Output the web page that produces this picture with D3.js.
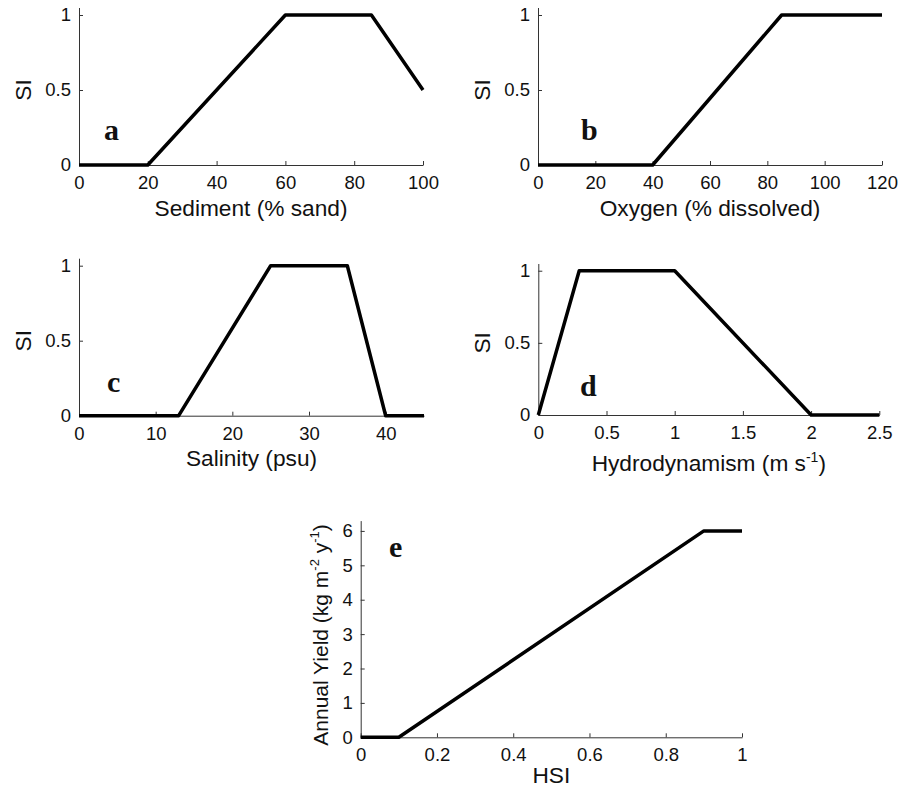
<!DOCTYPE html>
<html>
<head>
<meta charset="utf-8">
<script src="https://cdn.jsdelivr.net/npm/d3@7"></script>
<style>
  body { margin: 0; background: #fff; }
  svg { display: block; }
  text { font-family: "Liberation Sans", Arial, Helvetica, sans-serif; fill: #111; }
  .tick text { font-size: 18.5px; }
  .domain, .tick line { stroke: #333; stroke-width: 1; }
</style>
</head>
<body>
<svg width="907" height="788"></svg>
<script>
// suitability curves
const sedimentX = [0, 20, 60, 85, 100];
const sedimentY = [0, 0, 1, 1, 0.5];

const oxygenX = [0, 40, 85, 120];
const oxygenY = [0, 0, 1, 1];

const salinityX = [0, 13, 25, 35, 40, 45];
const salinityY = [0, 0, 1, 1, 0, 0];

const hydroX = [0, 0.3, 1, 2, 2.5];
const hydroY = [0, 1, 1, 0, 0];

const hsiX = [0, 0.1, 0.9, 1];
const yieldY = [0, 0, 6, 6];

const siTicks = [0, 0.5, 1];
const sedimentTicks = [0, 20, 40, 60, 80, 100];
const oxygenTicks = [0, 20, 40, 60, 80, 100, 120];
const salinityTicks = [0, 10, 20, 30, 40];
const hydroTicks = [0, 0.5, 1, 1.5, 2, 2.5];
const hsiTicks = [0, 0.2, 0.4, 0.6, 0.8, 1];
const yieldTicks = [0, 1, 2, 3, 4, 5, 6];

const svg = d3.select('svg');

// panel boxes in pixels (plot area only)
const panels = [
    { id: 'a', xs: sedimentX, ys: sedimentY, xDom: [0, 100], yDom: [0, 1.05], xT: sedimentTicks, yT: siTicks,
      x0: 79, x1: 423, y0: 165, y1: 7.5, letter: [104, 140], xlab: 'Sediment (% sand)', labY: 216 },
    { id: 'b', xs: oxygenX, ys: oxygenY, xDom: [0, 120], yDom: [0, 1.05], xT: oxygenTicks, yT: siTicks,
      x0: 538, x1: 882, y0: 165, y1: 7.5, letter: [581, 140], xlab: 'Oxygen (% dissolved)', labY: 216 },
    { id: 'c', xs: salinityX, ys: salinityY, xDom: [0, 45], yDom: [0, 1.05], xT: salinityTicks, yT: siTicks,
      x0: 79, x1: 424, y0: 415.7, y1: 258.2, letter: [107, 392], xlab: 'Salinity (psu)', labY: 466 },
    { id: 'd', xs: hydroX, ys: hydroY, xDom: [0, 2.5], yDom: [0, 1.05], xT: hydroTicks, yT: siTicks,
      x0: 538.3, x1: 879.3, y0: 415, y1: 263.5, letter: [580, 396], xlab: null, labY: 471 },
    { id: 'e', xs: hsiX, ys: yieldY, xDom: [0, 1], yDom: [0, 6.3], xT: hsiTicks, yT: yieldTicks,
      x0: 360.7, x1: 742, y0: 737.3, y1: 520.6, letter: [389, 557], xlab: 'HSI', labY: 783 }
];

const line = (x, y) => d3.line().x(d => x(d[0])).y(d => y(d[1]));

panels.forEach(p => {
    const x = d3.scaleLinear().domain(p.xDom).range([p.x0, p.x1]);
    const y = d3.scaleLinear().domain(p.yDom).range([p.y0, p.y1]);
    const g = svg.append('g');

    g.append('g')
        .attr('transform', `translate(0,${p.y0})`)
        .call(d3.axisBottom(x).tickValues(p.xT).tickFormat(d3.format('~g'))
            .tickSizeInner(-4).tickSizeOuter(0).tickPadding(11));

    g.append('g')
        .attr('transform', `translate(${p.x0},0)`)
        .call(d3.axisLeft(y).tickValues(p.yT).tickFormat(d3.format('~g'))
            .tickSizeInner(-4).tickSizeOuter(0).tickPadding(8));

    g.selectAll('.tick text').attr('fill', '#111');

    g.append('path')
        .datum(p.xs.map((v, i) => [v, p.ys[i]]))
        .attr('d', line(x, y))
        .attr('fill', 'none')
        .attr('stroke', '#000')
        .attr('stroke-width', 3.5)
        .attr('stroke-linejoin', 'round');

    // panel letter
    g.append('text')
        .attr('x', p.letter[0]).attr('y', p.letter[1])
        .style('font-family', '"Liberation Serif", "Times New Roman", serif')
        .style('font-weight', 'bold')
        .style('font-size', '30px')
        .text(p.id);

    const xMid = (p.x0 + p.x1) / 2;
    if (p.xlab) {
        g.append('text')
            .attr('x', xMid).attr('y', p.labY)
            .attr('text-anchor', 'middle')
            .style('font-size', '22.7px')
            .text(p.xlab);
    } else {
        const t = g.append('text')
            .attr('x', xMid).attr('y', p.labY)
            .attr('text-anchor', 'middle')
            .style('font-size', '22.7px');
        t.append('tspan').text('Hydrodynamism (m s');
        t.append('tspan').attr('dy', -9).style('font-size', '14px').text('-1');
        t.append('tspan').attr('dy', 9).text(')');
    }

    const yMid = (p.y0 + p.y1) / 2;
    if (p.id !== 'e') {
        g.append('text')
            .attr('transform', `translate(${p.x0 - 48},${(p.y0 + y(1)) / 2}) rotate(-90)`)
            .attr('text-anchor', 'middle')
            .style('font-size', '22.7px')
            .text('SI');
    } else {
        const t = g.append('text')
            .attr('transform', `translate(${p.x0 - 33},${yMid + 6}) rotate(-90)`)
            .attr('text-anchor', 'middle')
            .style('font-size', '21px');
        t.append('tspan').text('Annual Yield (kg m');
        t.append('tspan').attr('dy', -9).style('font-size', '13px').text('-2');
        t.append('tspan').attr('dy', 9).text(' y');
        t.append('tspan').attr('dy', -9).style('font-size', '13px').text('-1');
        t.append('tspan').attr('dy', 9).text(')');
    }
});
</script>
</body>
</html>
